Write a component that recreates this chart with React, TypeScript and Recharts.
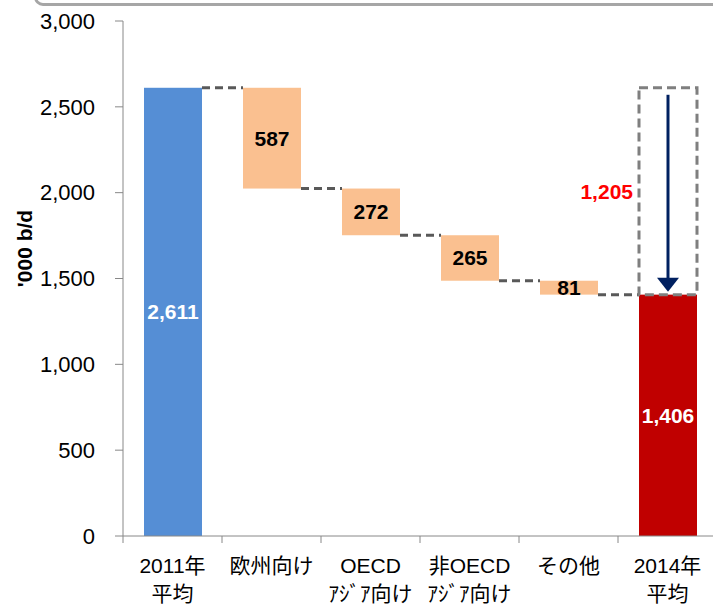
import React from 'react';
import { ComposedChart, Bar, XAxis, YAxis, LabelList, Cell } from 'recharts';

const categories = [['2011年', '平均'], ['欧州向け'], ['OECD', 'ｱｼﾞｱ向け'], ['非OECD', 'ｱｼﾞｱ向け'], ['その他'], ['2014年', '平均']];
const startValue = 2611;
const drops = [587, 272, 265, 81];
const endValue = 1406;
const yTicks = [0, 500, 1000, 1500, 2000, 2500, 3000];

const COLORS = ['#558ED5', '#FAC090', '#FAC090', '#FAC090', '#FAC090', '#C00000'];
const LABEL_COLORS = ['#FFFFFF', '#000000', '#000000', '#000000', '#000000', '#FFFFFF'];
const FONT = '"Liberation Sans", Arial, "Noto Sans CJK JP", sans-serif';

const W = 717;
const H = 605;
const Y_W = 123;
const BAND = (W - Y_W) / categories.length;

// waterfall rows: invisible base + visible value
const rows = (() => {
  const out = [{ name: categories[0].join(''), base: 0, value: startValue }];
  let level = startValue;
  drops.forEach((d, i) => {
    level -= d;
    out.push({ name: categories[i + 1].join(''), base: level, value: d });
  });
  out.push({ name: categories[5].join(''), base: 0, value: endValue });
  return out;
})();

function WaterfallBar(props: any) {
  const { x, y, width, height, index } = props;
  const gap = BAND - width;
  const dash = { stroke: '#595959', strokeWidth: 3, strokeDasharray: '8 5' };
  const last = index === rows.length - 1;
  let connector = null;
  if (index === 0) {
    connector = <line x1={x + width} x2={x + width + gap} y1={y} y2={y} {...dash} />;
  } else if (!last) {
    connector = <line x1={x + width} x2={x + width + gap} y1={y + height} y2={y + height} {...dash} />;
  }
  let extra = null;
  if (last) {
    const pxPer = height / rows[index].value;
    const topY = y + height - startValue * pxPer;
    const cx = x + width / 2;
    const tipY = y - 3;
    extra = (
      <g>
        <rect x={x} y={topY} width={width} height={y - topY} fill="none" stroke="#7F7F7F" strokeWidth={3} strokeDasharray="9 5" />
        <line x1={cx} x2={cx} y1={topY + 7} y2={tipY - 12} stroke="#002060" strokeWidth={3} />
        <polygon points={`${cx - 11},${tipY - 14} ${cx + 11},${tipY - 14} ${cx},${tipY}`} fill="#002060" />
        <text x={x - 6} y={(topY + y) / 2} textAnchor="end" dominantBaseline="central" fill="#FF0000" fontWeight="bold" fontSize={21} fontFamily={FONT}>
          {(startValue - endValue).toLocaleString('en-US')}
        </text>
      </g>
    );
  }
  return (
    <g>
      <rect x={x} y={y} width={width} height={height} fill={COLORS[index]} />
      {connector}
      {extra}
    </g>
  );
}

function XTick(props: any) {
  const { x, y, index } = props;
  const lines = categories[index];
  const tick = { stroke: '#888', strokeWidth: 1 };
  return (
    <g>
      <line x1={x - BAND / 2} x2={x - BAND / 2} y1={y} y2={y + 7} {...tick} />
      {index === categories.length - 1 && <line x1={x + BAND / 2} x2={x + BAND / 2} y1={y} y2={y + 7} {...tick} />}
      {lines.map((l, i) => (
        <text key={i} x={x} y={y + 37 + i * 28} textAnchor="middle" fontSize={21} fill="#000" fontFamily={FONT}>{l}</text>
      ))}
    </g>
  );
}

function ValueLabel(props: any) {
  const { x, y, width, height, index, value } = props;
  return (
    <text x={x + width / 2} y={y + height / 2} textAnchor="middle" dominantBaseline="central" fontSize={21} fontWeight="bold" fill={LABEL_COLORS[index]} fontFamily={FONT}>
      {Number(value).toLocaleString('en-US')}
    </text>
  );
}

function YLabel(props: any) {
  const vb = props.viewBox || {};
  const cy = (vb.y ?? 21) + (vb.height ?? 515) / 2 - 30;
  return (
    <text x={24} y={cy} transform={`rotate(-90 24 ${cy})`} textAnchor="middle" dominantBaseline="central" fontSize={21} fontWeight="bold" fill="#000" fontFamily={FONT}>
      '000 b/d
    </text>
  );
}

export default function App() {
  return (
    <div style={{ position: 'absolute', left: 0, top: 0, width: 713, height: 605, overflow: 'hidden', background: '#fff' }}>
      <div style={{ position: 'absolute', left: 34, top: -12, width: 720, height: 12, border: '3px solid #A6A6A6', borderRadius: 10 }} />
      <ComposedChart width={W} height={H} data={rows} margin={{ top: 21, right: 0, bottom: 0, left: 0 }} barSize={58}>
        <YAxis
          width={Y_W}
          domain={[0, 3000]}
          ticks={yTicks}
          interval={0}
          tickFormatter={(v: number) => v.toLocaleString('en-US')}
          tick={{ fontSize: 22, fill: '#000', fontFamily: FONT }}
          axisLine={{ stroke: '#888' }}
          tickLine={{ stroke: '#888' }}
          tickSize={8}
          tickMargin={20}
          label={{ content: YLabel }}
        />
        <XAxis
          dataKey="name"
          height={69}
          interval={0}
          tickLine={false}
          tickSize={0}
          tickMargin={0}
          axisLine={{ stroke: '#888' }}
          tick={<XTick />}
        />
        <Bar dataKey="base" stackId="w" fill="transparent" isAnimationActive={false} />
        <Bar dataKey="value" stackId="w" isAnimationActive={false} shape={<WaterfallBar />}>
          {rows.map((r, i) => <Cell key={r.name} fill={COLORS[i]} />)}
          <LabelList dataKey="value" content={<ValueLabel />} />
        </Bar>
      </ComposedChart>
    </div>
  );
}
